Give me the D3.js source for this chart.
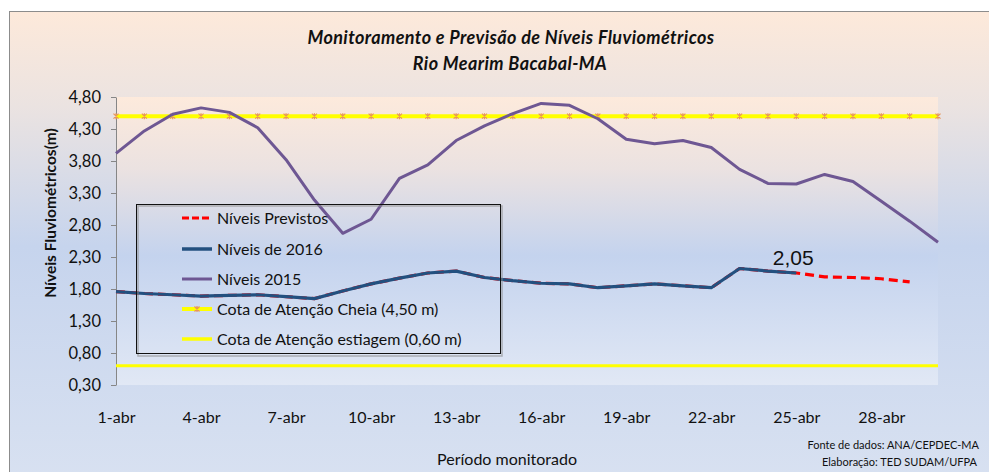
<!DOCTYPE html>
<html>
<head>
<meta charset="utf-8">
<script src="https://cdn.jsdelivr.net/npm/d3@7"></script>
<style>
  html, body { margin: 0; padding: 0; background: #ffffff; }
  svg { display: block; }
  text { font-family: Lato, "Open Sans", sans-serif; }
</style>
</head>
<body>
<svg id="chart" width="989" height="472"></svg>
<script>
// ---------- DATA ----------
const categories = ["1-abr","2-abr","3-abr","4-abr","5-abr","6-abr","7-abr","8-abr","9-abr","10-abr",
  "11-abr","12-abr","13-abr","14-abr","15-abr","16-abr","17-abr","18-abr","19-abr","20-abr",
  "21-abr","22-abr","23-abr","24-abr","25-abr","26-abr","27-abr","28-abr","29-abr","30-abr"];
const xTickLabels = ["1-abr","4-abr","7-abr","10-abr","13-abr","16-abr","19-abr","22-abr","25-abr","28-abr"];
const yTicks = [0.3, 0.8, 1.3, 1.8, 2.3, 2.8, 3.3, 3.8, 4.3, 4.8];

const niveis2015 = [3.92,4.27,4.53,4.63,4.56,4.32,3.82,3.19,2.67,2.89,
  3.53,3.74,4.12,4.35,4.54,4.70,4.67,4.46,4.14,4.07,
  4.12,4.01,3.67,3.45,3.44,3.59,3.48,3.17,2.86,2.53];
const niveis2016 = [1.76,1.73,1.71,1.69,1.70,1.71,1.68,1.65,1.77,1.88,
  1.97,2.05,2.08,1.98,1.93,1.89,1.88,1.82,1.85,1.88,
  1.85,1.82,2.12,2.08,2.05,null,null,null,null,null];
const niveisPrevistos = [1.76,1.73,1.71,1.69,1.70,1.71,1.68,1.65,1.77,1.88,
  1.97,2.05,2.08,1.98,1.93,1.89,1.88,1.82,1.85,1.88,
  1.85,1.82,2.12,2.08,2.05,1.99,1.98,1.96,1.91,null];
const cotaCheia = [4.5,4.5,4.5,4.5,4.5,4.5,4.5,4.5,4.5,4.5,4.5,4.5,4.5,4.5,4.5,
  4.5,4.5,4.5,4.5,4.5,4.5,4.5,4.5,4.5,4.5,4.5,4.5,4.5,4.5,4.5];
const cotaEstiagem = [0.6,0.6,0.6,0.6,0.6,0.6,0.6,0.6,0.6,0.6,0.6,0.6,0.6,0.6,0.6,
  0.6,0.6,0.6,0.6,0.6,0.6,0.6,0.6,0.6,0.6,0.6,0.6,0.6,0.6,0.6];
const lastObservedLabel = "2,05";
const lastObservedIndex = 24;

const legendItems = [
  { label: "Níveis Previstos", key: "prev" },
  { label: "Níveis de 2016", key: "n2016" },
  { label: "Níveis 2015", key: "n2015" },
  { label: "Cota de Atenção Cheia (4,50 m)", key: "cheia" },
  { label: "Cota de Atenção estiagem (0,60 m)", key: "estiagem" }
];

// ---------- LAYOUT ----------
const svg = d3.select("#chart");
const plot = { left: 116, right: 938, top: 97, bottom: 385 };

const defs = svg.append("defs");
const gOuter = defs.append("linearGradient").attr("id","gOuter").attr("x1",0).attr("y1",0).attr("x2",0).attr("y2",1);
[["0%","#fde9da"],["20%","#ebe3e1"],["50%","#c6d4ed"],["100%","#d8e1f1"]].forEach(s =>
  gOuter.append("stop").attr("offset", s[0]).attr("stop-color", s[1]));
const gPlot = defs.append("linearGradient").attr("id","gPlot").attr("x1",0).attr("y1",0).attr("x2",0).attr("y2",1);
[["0%","#fdeadc"],["25%","#ebe2e1"],["55%","#c4d3ee"],["100%","#e1e8f5"]].forEach(s =>
  gPlot.append("stop").attr("offset", s[0]).attr("stop-color", s[1]));

// outer chart area
svg.append("rect").attr("x", 9.5).attr("y", 11.5).attr("width", 990).attr("height", 470)
  .attr("fill", "url(#gOuter)").attr("stroke", "#8c8c8c").attr("stroke-width", 1);

// plot area
svg.append("rect").attr("x", plot.left).attr("y", plot.top)
  .attr("width", plot.right - plot.left).attr("height", plot.bottom - plot.top)
  .attr("fill", "url(#gPlot)");

// scales
const x = d3.scalePoint().domain(categories).range([plot.left, plot.right]).padding(0);
const y = d3.scaleLinear().domain([0.3, 4.8]).range([plot.bottom, plot.top]);
const fmt = v => d3.format(".2f")(v).replace(".", ",");

// y axis
const yAxis = svg.append("g").attr("transform", `translate(${plot.left},0)`)
  .call(d3.axisLeft(y).tickValues(yTicks).tickFormat(fmt).tickSize(5).tickPadding(10).tickSizeOuter(0));
yAxis.select(".domain").attr("stroke", "#868686");
yAxis.selectAll(".tick line").attr("stroke", "#868686");
yAxis.selectAll(".tick text").attr("fill", "#111").style("font-size", "16.5px").style("font-family", "Lato, sans-serif");

// x axis labels (no axis line)
const xAxis = svg.append("g").attr("transform", `translate(0,${plot.bottom})`)
  .call(d3.axisBottom(x).tickValues(xTickLabels).tickSize(0).tickPadding(27));
xAxis.select(".domain").remove();
xAxis.selectAll(".tick text").attr("fill", "#111").style("font-size", "16px").style("font-family", "Lato, sans-serif");

// y title
svg.append("text").attr("transform", "translate(56,213) rotate(-90)")
  .attr("text-anchor", "middle").style("font-size", "15.5px").style("font-weight", "bold")
  .attr("fill", "#111").text("Níveis Fluviométricos(m)");

// title
svg.append("text").attr("x", 511).attr("y", 44).attr("text-anchor", "middle")
  .style("font-size", "18px").style("font-weight", "bold").style("font-style", "italic")
  .style("letter-spacing", "0.4px")
  .attr("fill", "#111").text("Monitoramento  e Previsão  de Níveis Fluviométricos");
svg.append("text").attr("x", 510).attr("y", 70).attr("text-anchor", "middle")
  .style("font-size", "18px").style("font-weight", "bold").style("font-style", "italic")
  .style("letter-spacing", "0.4px")
  .attr("fill", "#111").text("Rio Mearim  Bacabal-MA");

// x title and credits
svg.append("text").attr("x", 507).attr("y", 465).attr("text-anchor", "middle")
  .style("font-size", "16px").attr("fill", "#111").text("Período monitorado");
svg.append("text").attr("x", 979).attr("y", 449).attr("text-anchor", "end")
  .style("font-size", "11px").attr("fill", "#111").text("Fonte de dados: ANA/CEPDEC-MA");
svg.append("text").attr("x", 977).attr("y", 466).attr("text-anchor", "end")
  .style("font-size", "11px").attr("fill", "#111").text("Elaboração: TED SUDAM/UFPA");

// lines
const lineGen = d3.line().defined(d => d.v != null).x(d => x(d.c)).y(d => y(d.v));
const zip = arr => categories.map((c, i) => ({ c, v: arr[i] }));

// estiagem
svg.append("path").datum(zip(cotaEstiagem)).attr("d", lineGen)
  .attr("fill", "none").attr("stroke", "#ffff00").attr("stroke-width", 3);

// cheia
svg.append("path").datum(zip(cotaCheia)).attr("d", lineGen)
  .attr("fill", "none").attr("stroke", "#ffff00").attr("stroke-width", 4);
const markerPath = "M-2.5,-2.5L2.5,2.5M-2.5,2.5L2.5,-2.5M0,-3L0,3";
svg.append("g").selectAll("path").data(zip(cotaCheia)).join("path")
  .attr("transform", d => `translate(${x(d.c)},${y(d.v)})`)
  .attr("d", markerPath).attr("stroke", "#e8955a").attr("stroke-width", 1.2).attr("fill", "none");

// 2015
svg.append("path").datum(zip(niveis2015)).attr("d", lineGen)
  .attr("fill", "none").attr("stroke", "#6e5793").attr("stroke-width", 3).attr("stroke-linejoin", "round");

// previstos (red dashed)
svg.append("path").datum(zip(niveisPrevistos)).attr("d", lineGen)
  .attr("fill", "none").attr("stroke", "#ff0000").attr("stroke-width", 3.2).attr("stroke-dasharray", "9,5");

// 2016
svg.append("path").datum(zip(niveis2016)).attr("d", lineGen)
  .attr("fill", "none").attr("stroke", "#23507f").attr("stroke-width", 3.2).attr("stroke-linejoin", "round");

// data label
svg.append("text").attr("x", x(categories[lastObservedIndex]) - 3).attr("y", y(niveis2016[lastObservedIndex]) - 8)
  .attr("text-anchor", "middle").style("font-family", "'Liberation Sans', Arial, sans-serif")
  .style("font-size", "21px").attr("fill", "#111").text(lastObservedLabel);

// legend
const lg = svg.append("g");
lg.append("rect").attr("x", 138).attr("y", 206).attr("width", 364).attr("height", 150)
  .attr("fill", "none").attr("stroke", "#8a8a8a").attr("stroke-width", 1.5).attr("opacity", 0.6);
lg.append("rect").attr("x", 136.5).attr("y", 204.5).attr("width", 364).attr("height", 149)
  .attr("fill", "none").attr("stroke", "#111").attr("stroke-width", 1);
const rowY = [218, 249, 279, 309, 339];
legendItems.forEach((it, i) => {
  const yy = rowY[i];
  const g = lg.append("g");
  if (it.key === "prev") {
    g.append("line").attr("x1", 182).attr("x2", 212).attr("y1", yy).attr("y2", yy)
      .attr("stroke", "#ff0000").attr("stroke-width", 3).attr("stroke-dasharray", "7,3");
  } else if (it.key === "n2016") {
    g.append("line").attr("x1", 182).attr("x2", 212).attr("y1", yy).attr("y2", yy)
      .attr("stroke", "#23507f").attr("stroke-width", 3.5);
  } else if (it.key === "n2015") {
    g.append("line").attr("x1", 182).attr("x2", 212).attr("y1", yy).attr("y2", yy)
      .attr("stroke", "#6e5793").attr("stroke-width", 3);
  } else if (it.key === "cheia") {
    g.append("line").attr("x1", 182).attr("x2", 212).attr("y1", yy).attr("y2", yy)
      .attr("stroke", "#ffff00").attr("stroke-width", 4);
    g.append("path").attr("transform", `translate(197,${yy})`).attr("d", markerPath)
      .attr("stroke", "#e8955a").attr("stroke-width", 1.2).attr("fill", "none");
  } else {
    g.append("line").attr("x1", 182).attr("x2", 212).attr("y1", yy).attr("y2", yy)
      .attr("stroke", "#ffff00").attr("stroke-width", 3.5);
  }
  g.append("text").attr("x", 217).attr("y", yy).attr("dy", "0.35em")
    .style("font-size", "16px").attr("fill", "#111").text(it.label);
});
</script>
</body>
</html>
